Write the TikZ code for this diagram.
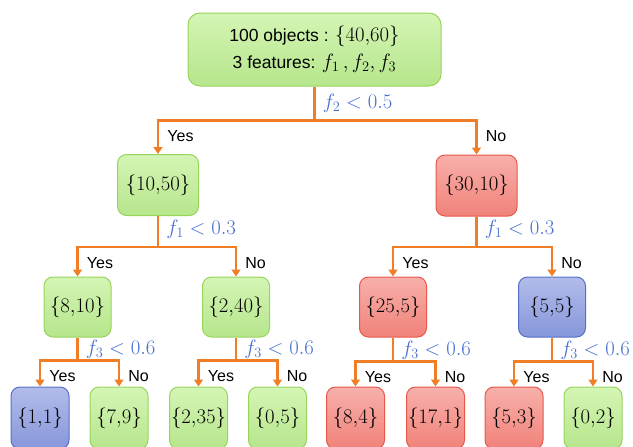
\documentclass[tikz,border=0pt]{standalone}
\usepackage[no-math]{fontspec}
\setmainfont{Liberation Sans}
\usetikzlibrary{arrows.meta, positioning, calc}
\definecolor{edgeColor}{HTML}{F07E26}
\definecolor{ruleColor}{HTML}{4A6FD0}
\definecolor{greenTop}{HTML}{D4F5B4}
\definecolor{greenBot}{HTML}{B6E68C}
\definecolor{greenLine}{HTML}{98D45C}
\definecolor{redTop}{HTML}{F8B0AA}
\definecolor{redBot}{HTML}{F0827A}
\definecolor{redLine}{HTML}{E8584A}
\definecolor{blueTop}{HTML}{B2BCEA}
\definecolor{blueBot}{HTML}{8696DA}
\definecolor{blueLine}{HTML}{5670C8}
\newcommand{\bigmath}[1]{{\fontsize{19.5}{27}\selectfont$#1$}}

\begin{document}
\begin{tikzpicture}[
    x=1pt, y=-1pt,
    box/.style={rectangle, rounded corners=9pt, line width=1pt, inner sep=0pt, font=\fontsize{17.5}{27}\selectfont, align=center},
    classTwo/.style={box, top color=greenTop, bottom color=greenBot, draw=greenLine},
    classOne/.style={box, top color=redTop, bottom color=redBot, draw=redLine},
    tie/.style={box, top color=blueTop, bottom color=blueBot, draw=blueLine},
    levelOne/.style={minimum width=81pt, minimum height=61pt},
    levelTwo/.style={minimum width=67pt, minimum height=60pt},
    leaf/.style={minimum width=58pt, minimum height=62pt},
    link/.style={draw=edgeColor, line width=2.8pt},
    branch/.style={link, -{Triangle[width=9pt,length=7pt]}},
    rule/.style={text=ruleColor, font=\fontsize{20}{22}\selectfont, inner sep=0pt, anchor=south west, xshift=7pt},
    answer/.style={font=\fontsize{16}{19}\selectfont, inner sep=0pt, anchor=north west, xshift=8pt, yshift=-9pt}
]
\clip (0,0) rectangle (633,447);

% root
\node[classTwo, rounded corners=12pt, minimum width=253pt, minimum height=73pt] (root) at (314.5,49.5)
    {100 objects : \bigmath{\{40{,}60\}}\\3 features: \bigmath{f_1\,, f_2, f_3}};

% first split
\node[classTwo, levelOne] (n1050) at (158,185) {\bigmath{\{10{,}50\}}};
\node[classOne, levelOne] (n3010) at (476.5,185.5) {\bigmath{\{30{,}10\}}};

% second split
\node[classTwo, levelTwo] (n810) at (77.5,307) {\bigmath{\{8{,}10\}}};
\node[classTwo, levelTwo] (n240) at (236,307) {\bigmath{\{2{,}40\}}};
\node[classOne, levelTwo] (n255) at (393,307) {\bigmath{\{25{,}5\}}};
\node[tie, levelTwo] (n55) at (552,307) {\bigmath{\{5{,}5\}}};

% leaves
\node[tie, leaf] (n11) at (40,418) {\bigmath{\{1{,}1\}}};
\node[classTwo, leaf] (n79) at (119,418) {\bigmath{\{7{,}9\}}};
\node[classTwo, leaf] (n235) at (198.5,418) {\bigmath{\{2{,}35\}}};
\node[classTwo, leaf] (n05) at (277.5,418) {\bigmath{\{0{,}5\}}};
\node[classOne, leaf] (n84) at (355.5,418) {\bigmath{\{8{,}4\}}};
\node[classOne, leaf] (n171) at (435.5,418) {\bigmath{\{17{,}1\}}};
\node[classOne, leaf] (n53) at (514,418) {\bigmath{\{5{,}3\}}};
\node[classTwo, leaf] (n02) at (593,418) {\bigmath{\{0{,}2\}}};

% split points
\coordinate (s0) at ([yshift=-34pt]root.south);
\coordinate (s1) at ([yshift=-31pt]n1050.south);
\coordinate (s2) at ([yshift=-30.5pt]n3010.south);
\coordinate (s3) at ([yshift=-23pt]n810.south);
\coordinate (s4) at ([yshift=-23pt]n240.south);
\coordinate (s5) at ([yshift=-24pt]n255.south);
\coordinate (s6) at ([yshift=-24pt]n55.south);

\draw[link] (root.south) -- (s0) node[rule, pos=1, yshift=7pt] {$f_2 < 0.5$};
\draw[branch] (s0) -| (n1050) node[answer, pos=0.5] {Yes};
\draw[branch] (s0) -| (n3010) node[answer, pos=0.5] {No};

\draw[link] (n1050.south) -- (s1) node[rule, pos=1, yshift=7pt] {$f_1 < 0.3$};
\draw[branch] (s1) -| (n810) node[answer, pos=0.5] {Yes};
\draw[branch] (s1) -| (n240) node[answer, pos=0.5] {No};

\draw[link] (n3010.south) -- (s2) node[rule, pos=1, yshift=7pt] {$f_1 < 0.3$};
\draw[branch] (s2) -| (n255) node[answer, pos=0.5] {Yes};
\draw[branch] (s2) -| (n55) node[answer, pos=0.5] {No};

\draw[link] (n810.south) -- (s3) node[rule, pos=1, yshift=1pt] {$f_3 < 0.6$};
\draw[branch] (s3) -| (n11) node[answer, pos=0.5] {Yes};
\draw[branch] (s3) -| (n79) node[answer, pos=0.5] {No};

\draw[link] (n240.south) -- (s4) node[rule, pos=1, yshift=1pt] {$f_3 < 0.6$};
\draw[branch] (s4) -| (n235) node[answer, pos=0.5] {Yes};
\draw[branch] (s4) -| (n05) node[answer, pos=0.5] {No};

\draw[link] (n255.south) -- (s5) node[rule, pos=1, yshift=1pt] {$f_3 < 0.6$};
\draw[branch] (s5) -| (n84) node[answer, pos=0.5] {Yes};
\draw[branch] (s5) -| (n171) node[answer, pos=0.5] {No};

\draw[link] (n55.south) -- (s6) node[rule, pos=1, yshift=1pt] {$f_3 < 0.6$};
\draw[branch] (s6) -| (n53) node[answer, pos=0.5] {Yes};
\draw[branch] (s6) -| (n02) node[answer, pos=0.5] {No};

\end{tikzpicture}
\end{document}
